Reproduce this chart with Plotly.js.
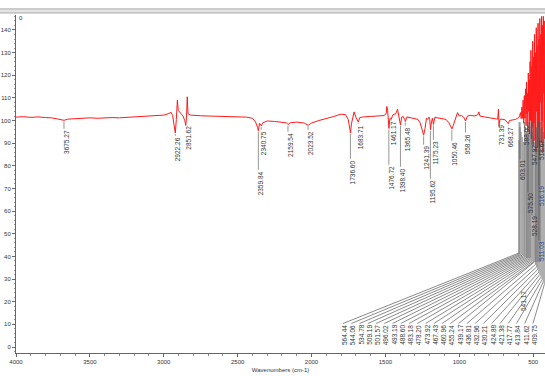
<!DOCTYPE html>
<html><head><meta charset="utf-8">
<script src="https://cdn.plot.ly/plotly-3.0.1.min.js"></script>
<style>html,body{margin:0;padding:0;background:#fff}#chart{width:545px;height:376px}</style>
</head><body><div id="chart"></div>
<script>
// ---------------- DATA ----------------
const wavenumber = [
4000,3950,3900,3850,3800,3760,3720,3700,3675,3650,3600,3550,3500,3450,3400,3350,3300,3250,3200,3150,3100,3050,3000,
2970,2950,2940,2930,2922,2915,2908,2902,2890,2870,2858,2851,2846,2841,2836,2820,2750,2700,2600,2500,2440,2400,2380,
2365,2360,2352,2345,2340,2330,2300,2250,2200,2170,2159,2145,2100,2050,2023,2000,1950,1900,1850,1800,1770,1752,1742,
1736,1730,1720,1712,1700,1690,1683,1675,1650,1600,1550,1510,1495,1490,1485,1480,1476,1470,1461,1450,1430,1418,1410,
1402,1398,1390,1380,1370,1365,1355,1330,1300,1280,1265,1252,1241,1232,1222,1215,1205,1200,1195,1188,1182,1175,1165,
1150,1120,1090,1070,1058,1050,1040,1025,1012,1000,985,970,958,945,920,900,875,868,860,830,800,770,750,740,735,733,
731,725,710,690,675,668,660,640,620,605,
598,592,586,581,576,572,568,564,560,556,552,548,545,542,539,536,533,530,527,524,521,518,515,512,509,506,503,500,
497,494,491,488,485,482,479,476,473,470,467,464,461,458,455,452,449,446,443,440,437,434,431,428,425,422,420];
const transmittance = [
101.5,101.7,101.4,101.6,101.3,101.2,100.7,100.4,100.1,100.6,100.9,101.0,101.2,101.0,101.2,101.3,101.2,101.4,101.5,101.6,101.8,102.0,102.4,
103.0,103.6,102.2,98.5,94.5,100.5,109.0,104.5,103.5,102.0,100.0,98.0,101.5,110.5,103.0,102.4,102.1,102.0,101.8,101.6,101.5,101.0,99.5,
97.0,95.5,98.8,98.0,97.6,99.0,99.8,99.6,99.2,99.0,98.2,99.0,99.3,98.9,97.9,98.9,100.0,100.8,101.8,102.8,102.6,100.5,96.0,
94.5,98.5,102.5,103.8,101.5,100.0,99.3,101.2,101.6,101.8,102.0,102.2,103.0,106.2,104.5,100.0,96.5,101.0,100.5,102.5,103.0,105.0,102.5,
99.0,98.0,101.5,101.8,100.5,99.6,101.6,101.2,101.0,100.5,99.0,96.5,93.5,96.5,101.0,100.5,101.5,100.5,96.0,99.5,101.0,98.3,101.5,
101.2,101.0,100.5,99.0,97.0,96.3,98.0,101.0,103.5,102.0,102.2,101.5,99.8,102.0,102.3,102.0,102.5,103.8,102.0,101.6,101.2,100.8,100.4,100.6,105.0,103.0,
97.5,100.5,100.6,100.3,99.2,98.6,100.0,100.2,100.5,101.0,
101.2,102.0,103.5,100.8,106.0,101.0,109.0,99.0,111.0,101.0,114.0,98.0,117.0,103.0,112.0,95.0,121.0,104.0,118.0,94.0,126.0,100.0,131.0,92.0,124.0,97.0,135.0,89.0,
128.0,99.0,138.0,91.0,130.0,86.0,141.0,104.0,133.0,88.0,143.0,97.0,136.0,85.0,145.0,108.0,138.0,90.0,146.0,100.0,142.0,86.0,146.0,112.0,144.0,92.0,140.0];

const upperPeakLabels = ['3675.27','2922.26','2851.62','2359.84','2340.75','2159.54','2023.52','1736.60','1683.71','1476.72',
  '1461.17','1398.40','1365.48','1241.39','1195.62','1175.23','1050.46','958.26','731.39','668.27'];
const clusterPeakLabels = ['603.01','588.00','575.50','547.97','528.19','518.67','516.19','511.03','541.17'];
const bottomPeakLabels = ['564.44','544.06','534.78','509.19','501.57','496.02','493.19','488.60','483.18','478.20',
  '473.92','467.43','460.96','455.24','439.17','436.81','432.96','430.21','424.88','421.38','417.77','413.84','411.62','409.75'];
const yTickValues = [0,10,20,30,40,50,60,70,80,90,100,110,120,130,140];
const xTickValues = [4000,3500,3000,2500,2000,1500,1000,500];
const xAxisTitle = 'Wavenumbers (cm-1)';

// ---------------- LAYOUT HELPERS ----------------
const P = {left:16, right:545, top:15, bottom:353, wnL:4000, wnR:420, vT:146.6, vB:-2.65};
const pxToWn = px => P.wnL + (px - P.left) * (P.wnR - P.wnL) / (P.right - P.left);
const wnToPx = wn => P.left + (wn - P.wnL) * (P.right - P.left) / (P.wnR - P.wnL);
const pyToV = py => P.vT + (py - P.top) * (P.vB - P.vT) / (P.bottom - P.top);
const vToPy = v => P.top + (v - P.vT) * (P.bottom - P.top) / (P.vB - P.vT);
function curveAt(wn){ let bi=0, bd=1e9; wavenumber.forEach((w,i)=>{const d=Math.abs(w-wn); if(d<bd){bd=d;bi=i;}}); return transmittance[bi]; }

const labelFont = {family:'Liberation Sans, Arial, sans-serif', size:6.5, color:'#333'};
const textHalf = s => s.length * 3.5 / 2;
const annotations = [];
const shapes = [];
function vline(x0,y0,x1,y1,color,width){ shapes.push({type:'line', xref:'x', yref:'y', x0:pxToWn(x0), y0:pyToV(y0), x1:pxToWn(x1), y1:pyToV(y1), line:{color:color, width:width}}); }

// upper labels: text centre (px) for each
const upperCenterPy = [142,149,138,183,143,145,143,172,137,178,133,180,139,158,192,153,154,144,135,137];
upperPeakLabels.forEach((lab,i)=>{
  const wn = parseFloat(lab);
  const px = wnToPx(wn);
  const cy = upperCenterPy[i];
  const startPy = vToPy(curveAt(wn)) + 1;
  vline(px, startPy, px, cy - textHalf(lab) - 1, '#8a8a8a', 0.9);
  annotations.push({x:pxToWn(px+2), y:pyToV(cy), xref:'x', yref:'y', text:lab, textangle:-90, showarrow:false, font:labelFont, xanchor:'center', yanchor:'middle'});
});

// gray bands in the crowded low-wavenumber column
[[526,131,531,258],[535,128,541,262],[518,140,520,254]].forEach(r=>{
  shapes.push({type:'rect', xref:'x', yref:'y', x0:pxToWn(r[0]), x1:pxToWn(r[2]), y0:pyToV(r[1]), y1:pyToV(r[3]), fillcolor:'#c9c9c9', line:{width:0}, layer:'below'});
});

// cluster labels (column)
const clusterPx = [522,526,530,534,534,541,541,541,523];
const clusterPy = [170,135,203,155,226,150,196,251,301];
const clusterColor = ['#333','#333','#333','#333','#333','#333','#2b4c9b','#2b4c9b','#333'];
clusterPeakLabels.forEach((lab,i)=>{
  const px = clusterPx[i], cy = clusterPy[i];
  if(i<8) vline(px-2, 122, px-2, cy - textHalf(lab), '#555', 0.7);
  annotations.push({x:pxToWn(px), y:pyToV(cy), xref:'x', yref:'y', text:lab, textangle:-90, showarrow:false, font:Object.assign({}, labelFont, {color:clusterColor[i]}), xanchor:'center', yanchor:'middle'});
});

// bottom row labels with elbow leader lines
bottomPeakLabels.forEach((lab,i)=>{
  const lx = 343 + i * 8.26;
  const cy = 335;
  const topY = cy - textHalf(lab) - 1;
  const ex = 519 + i * 1.1;
  const ey = i < 14 ? 253 + i * 0.7 : 262 + (i - 14) * 2.5;
  const vy = 122 + (i % 5) * 5;
  vline(lx, topY, ex, ey, '#3a3a3a', 0.6);
  vline(ex, ey, ex, vy, '#555', 0.6);
  annotations.push({x:pxToWn(lx+1), y:pyToV(cy), xref:'x', yref:'y', text:lab, textangle:-90, showarrow:false, font:labelFont, xanchor:'center', yanchor:'middle'});
});

// top frame bar
shapes.push({type:'rect', xref:'paper', yref:'paper', x0:-0.04, x1:1.02, y0:1.006, y1:1.018, fillcolor:'#e4e4e4', line:{color:'#a8a8a8', width:1}});
annotations.push({x:(21-P.left)/(P.right-P.left), y:1-(18-P.top)/(P.bottom-P.top), xref:'paper', yref:'paper', text:'0', showarrow:false, font:{family:labelFont.family,size:6,color:'#333'}, xanchor:'center', yanchor:'middle'});

const trace = {x:wavenumber, y:transmittance, type:'scatter', mode:'lines', line:{color:'#ff1a1a', width:1}, hoverinfo:'skip'};

const axFont = {family:'Liberation Sans, Arial, sans-serif', size:6, color:'#333'};
const layout = {
  width:545, height:376,
  margin:{l:P.left, r:545-P.right, t:P.top, b:376-P.bottom, pad:0},
  paper_bgcolor:'#fff', plot_bgcolor:'#fff',
  showlegend:false,
  xaxis:{range:[P.wnL,P.wnR], tickmode:'array', tickvals:xTickValues, ticktext:xTickValues.map(String),
    ticks:'outside', ticklen:3, tickcolor:'#666', showline:true, linecolor:'#666', linewidth:1, showgrid:false, zeroline:false,
    minor:{tickmode:'linear', tick0:0, dtick:100, ticks:'outside', ticklen:2, tickcolor:'#888', showgrid:false},
    tickfont:axFont, automargin:false,
    title:{text:xAxisTitle, font:axFont, standoff:3}},
  yaxis:{range:[P.vB,P.vT], tickmode:'array', tickvals:yTickValues, ticktext:yTickValues.map(String),
    ticks:'outside', ticklen:3, tickcolor:'#666', showline:true, linecolor:'#666', linewidth:1, showgrid:false, zeroline:false,
    minor:{tickmode:'linear', tick0:0, dtick:2, ticks:'outside', ticklen:1.5, tickcolor:'#999', showgrid:false},
    tickfont:axFont, automargin:false},
  shapes:shapes, annotations:annotations
};
Plotly.newPlot('chart', [trace], layout, {displayModeBar:false, staticPlot:true});
</script></body></html>
